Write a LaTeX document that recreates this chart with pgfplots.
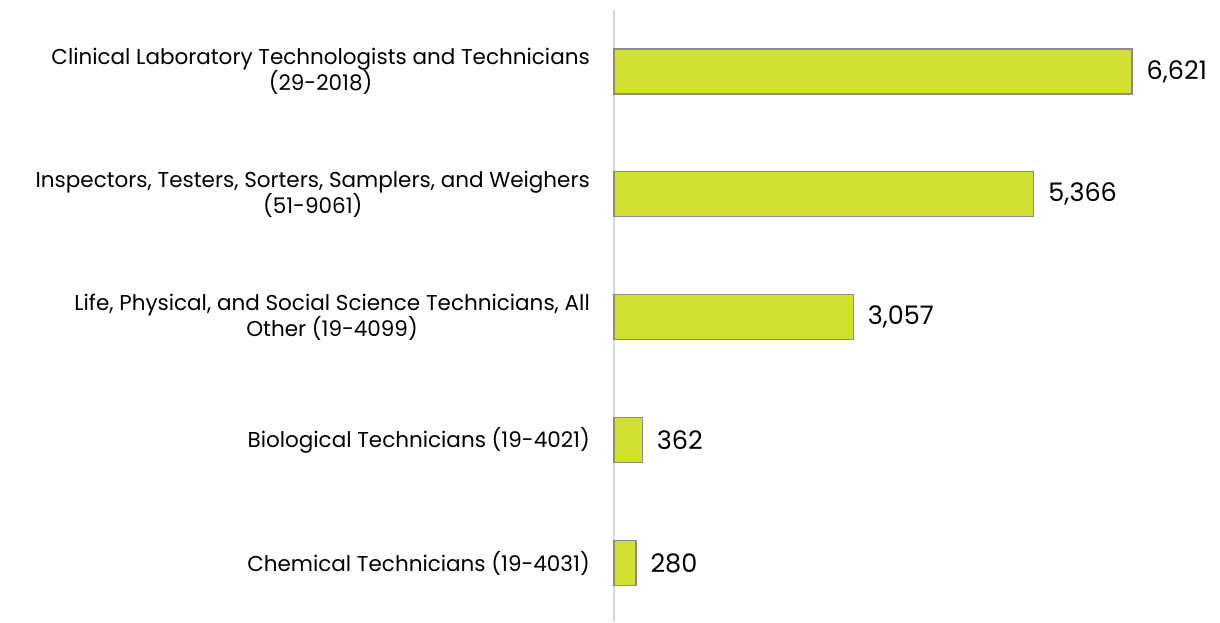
\documentclass[border=0pt]{standalone}
\usepackage{fontspec}
\setmainfont{Poppins}
\usepackage{pgfplots}
\pgfplotsset{compat=1.18}
\definecolor{barfill}{HTML}{D0E130}
\definecolor{barline}{HTML}{8A8A8A}
\definecolor{axline}{HTML}{D9D9D9}
\begin{document}
\begin{tikzpicture}
\useasboundingbox (0,0) rectangle (1220pt,622pt);
\begin{axis}[
  at={(614pt,0pt)}, anchor=south west,
  scale only axis,
  width=606pt, height=612pt,
  xmin=0, xmax=7745,
  ymin=-0.48, ymax=4.5,
  axis x line=none,
  axis y line*=left,
  y axis line style={axline, line width=1.2pt, -},
  ytick={0,1,2,3,4},
  major tick length=0pt,
  yticklabels={
    {Chemical Technicians (19-4031)},
    {Biological Technicians (19-4021)},
    {Life, Physical, and Social Science Technicians, All\\Other (19-4099)},
    {Inspectors, Testers, Sorters, Samplers, and Weighers\\(51-9061)},
    {Clinical Laboratory Technologists and Technicians\\(29-2018)}},
  yticklabel style={align=center, anchor=east, inner sep=0pt, xshift=-24pt,
    font=\fontsize{21.5}{26}\selectfont},
  xbar, bar width=45pt,
  point meta=explicit symbolic,
  nodes near coords,
  nodes near coords style={anchor=west, xshift=14pt, inner sep=0pt,
    font=\fontsize{25.5}{28}\selectfont},
  clip=false,
]
\addplot[fill=barfill, draw=barline, line width=1.2pt] coordinates {
  (280,0) [280]
  (362,1) [362]
  (3057,2) [3,057]
  (5366,3) [5,366]
  (6621,4) [6,621]
};
\end{axis}
\end{tikzpicture}
\end{document}
